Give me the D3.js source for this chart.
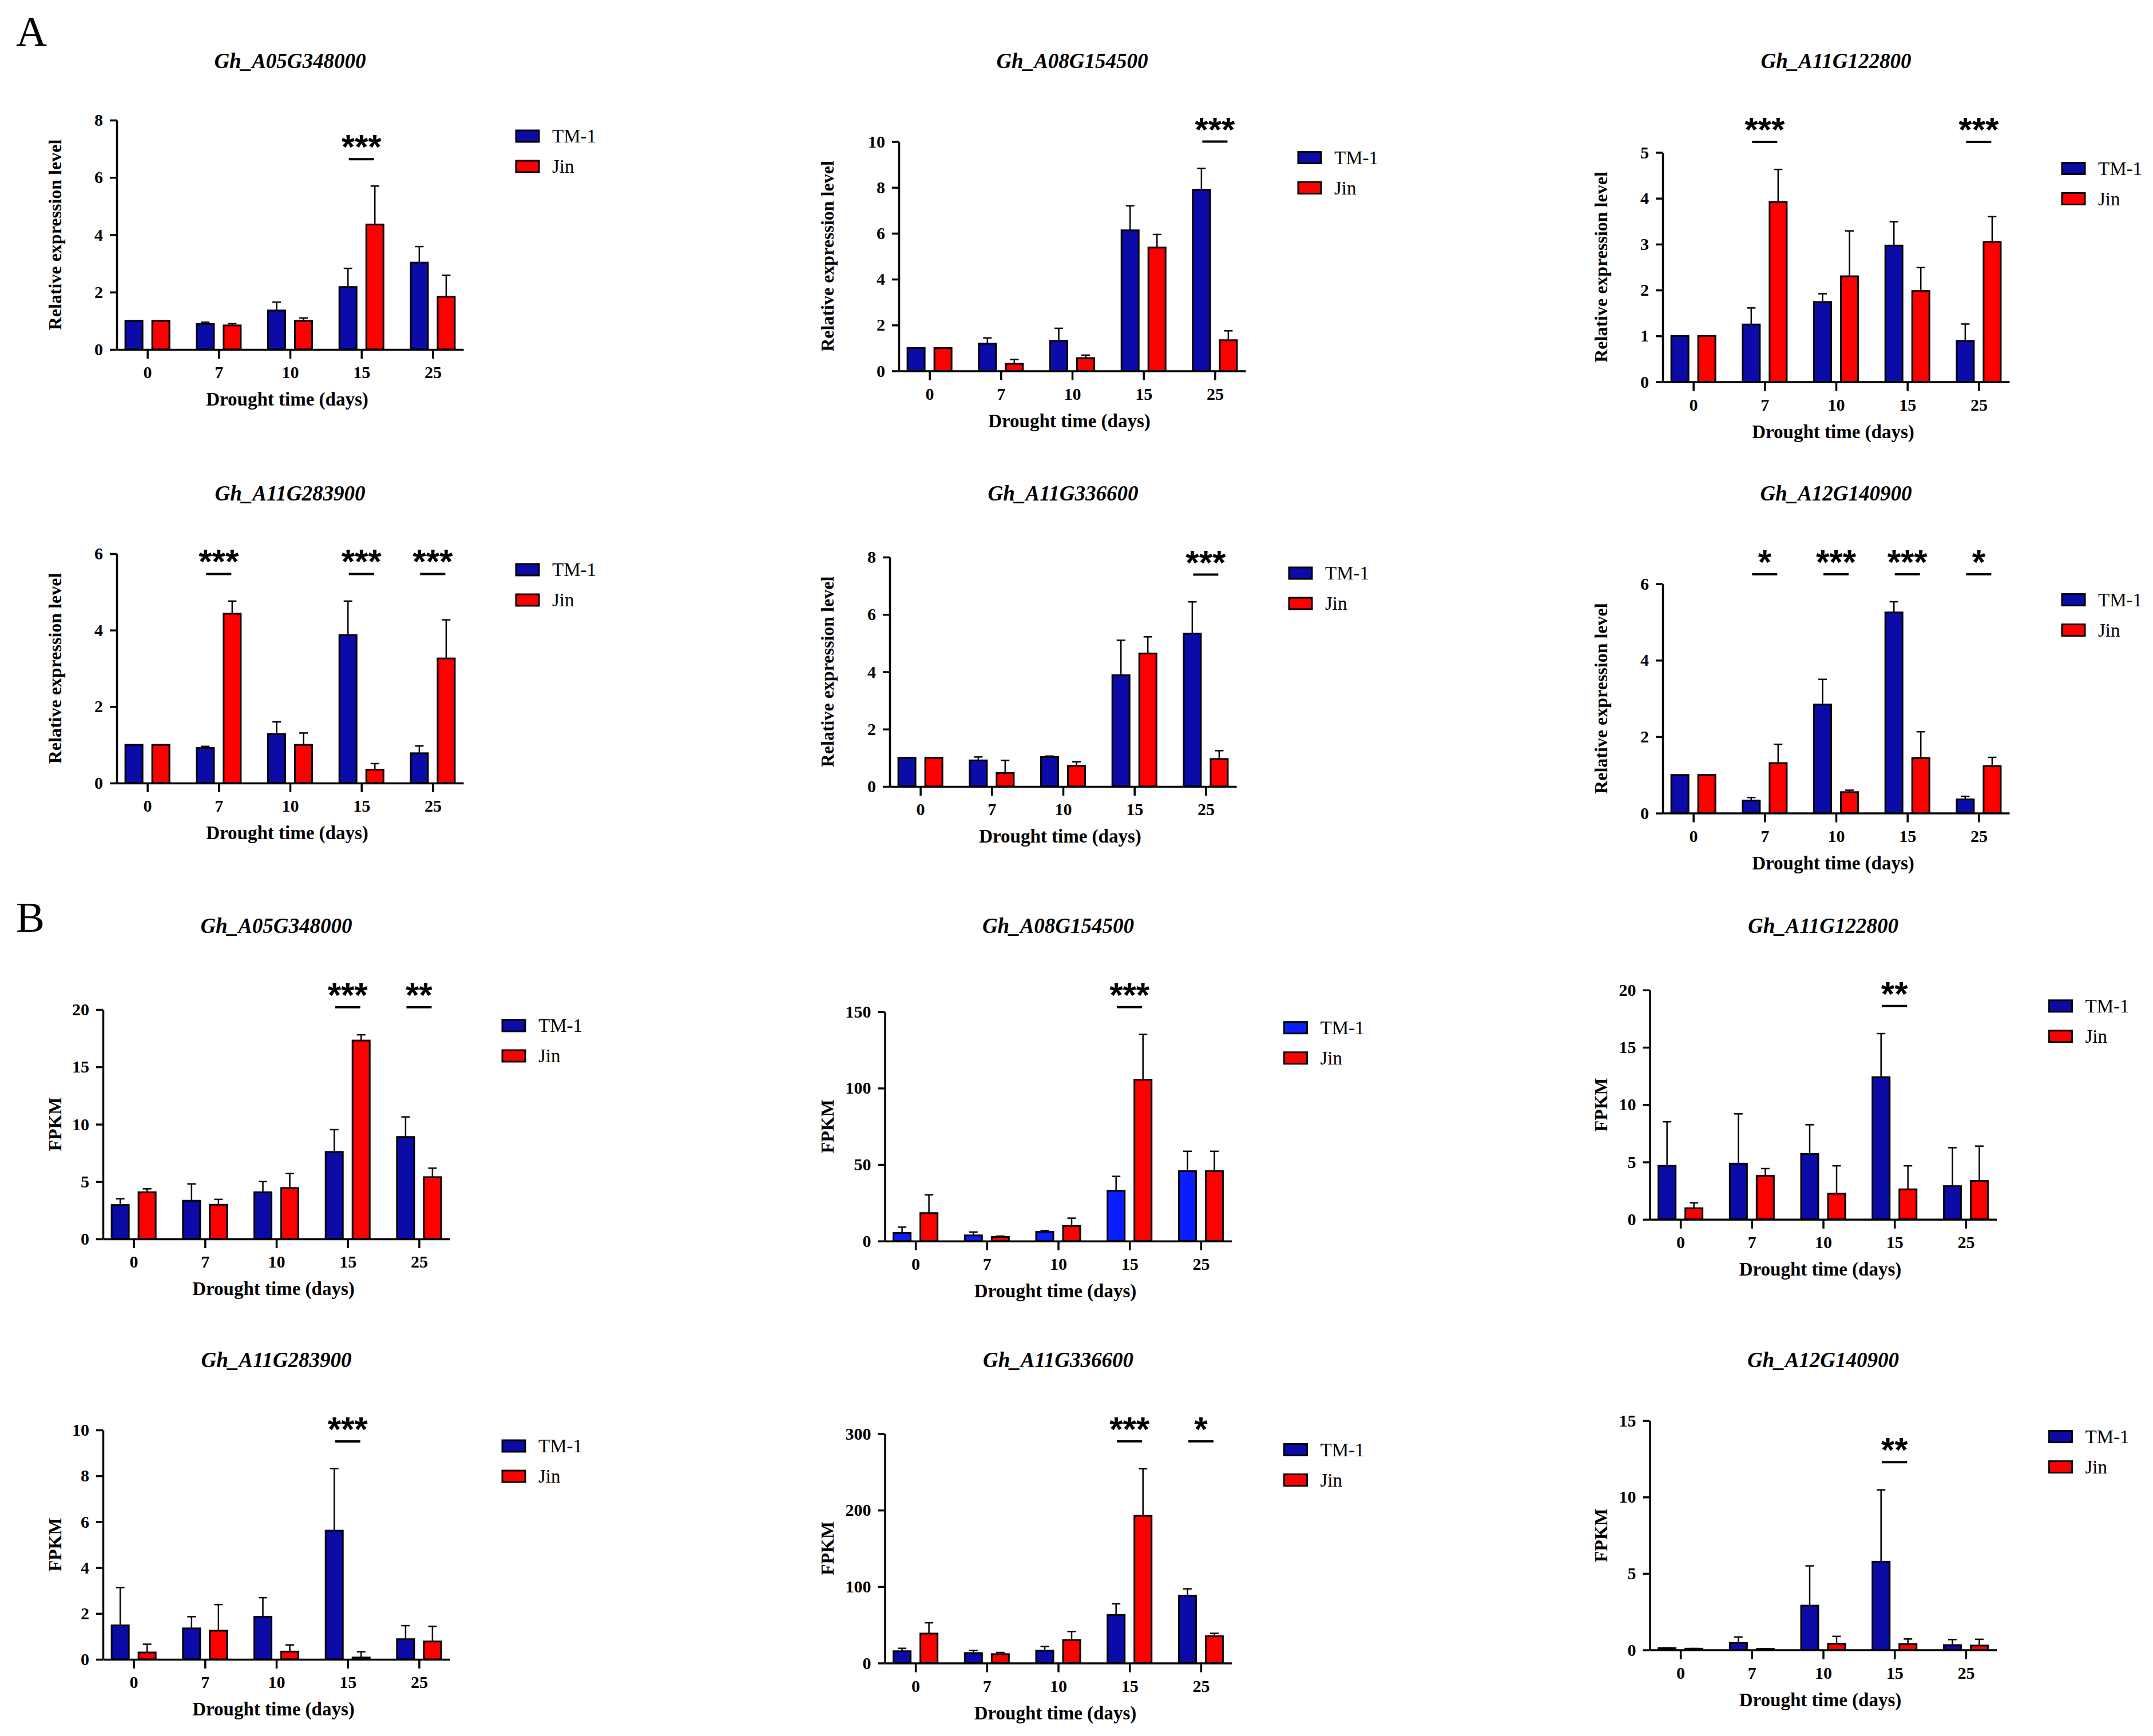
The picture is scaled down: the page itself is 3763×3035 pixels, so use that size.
<!DOCTYPE html>
<html>
<head>
<meta charset="utf-8">
<script src="https://cdn.jsdelivr.net/npm/d3@7"></script>
<style>
  body { margin: 0; background: #fff; }
</style>
</head>
<body>
<div id="chart"></div>
<script>
const svgWidth = 3763;
const svgHeight = 3035;

const days = ["0", "7", "10", "15", "25"];
const series = ["TM-1", "Jin"];
const genes = ["Gh_A05G348000", "Gh_A08G154500", "Gh_A11G122800",
               "Gh_A11G283900", "Gh_A11G336600", "Gh_A12G140900"];

// A: relative expression (qRT-PCR), one row per gene
const qpcrTM1 = [
    [1.0, 0.89, 1.36, 2.18, 3.03],
    [1.0, 1.19, 1.31, 6.13, 7.90],
    [1.0, 1.25, 1.74, 2.97, 0.89],
    [1.0, 0.92, 1.28, 3.87, 0.78],
    [1.0, 0.91, 1.03, 3.88, 5.33],
    [1.0, 0.33, 2.84, 5.25, 0.36]
];
const qpcrTM1Err = [
    [0, 0.06, 0.29, 0.65, 0.56],
    [0, 0.25, 0.55, 1.07, 0.93],
    [0, 0.36, 0.18, 0.52, 0.37],
    [0, 0.04, 0.32, 0.89, 0.19],
    [0, 0.12, 0.03, 1.22, 1.11],
    [0, 0.08, 0.66, 0.28, 0.08]
];
const qpcrJin = [
    [1.0, 0.84, 1.00, 4.36, 1.84],
    [1.0, 0.31, 0.56, 5.38, 1.34],
    [1.0, 3.92, 2.30, 1.98, 3.05],
    [1.0, 4.43, 1.00, 0.35, 3.26],
    [1.0, 0.47, 0.72, 4.64, 0.96],
    [1.0, 1.31, 0.55, 1.44, 1.23]
];
const qpcrJinErr = [
    [0, 0.06, 0.10, 1.34, 0.75],
    [0, 0.19, 0.13, 0.57, 0.41],
    [0, 0.71, 0.99, 0.51, 0.55],
    [0, 0.33, 0.31, 0.16, 1.01],
    [0, 0.44, 0.14, 0.58, 0.29],
    [0, 0.49, 0.05, 0.69, 0.23]
];
const qpcrTicks = [[0, 2, 4, 6, 8], [0, 2, 4, 6, 8, 10], [0, 1, 2, 3, 4, 5],
                   [0, 2, 4, 6], [0, 2, 4, 6, 8], [0, 2, 4, 6]];
const qpcrSig = [
    [{day: "15", mark: "***", level: 6.64}],
    [{day: "25", mark: "***", level: 10.0}],
    [{day: "7", mark: "***", level: 5.23}, {day: "25", mark: "***", level: 5.23}],
    [{day: "7", mark: "***", level: 5.47}, {day: "15", mark: "***", level: 5.47}, {day: "25", mark: "***", level: 5.47}],
    [{day: "25", mark: "***", level: 7.39}],
    [{day: "7", mark: "*", level: 6.25}, {day: "10", mark: "***", level: 6.25}, {day: "15", mark: "***", level: 6.25}, {day: "25", mark: "*", level: 6.25}]
];

// B: FPKM (RNA-seq)
const fpkmTM1 = [
    [2.96, 3.33, 4.07, 7.59, 8.89],
    [5.3, 3.7, 6.0, 32.9, 45.7],
    [4.67, 4.86, 5.7, 12.4, 2.9],
    [1.48, 1.35, 1.86, 5.61, 0.88],
    [15.5, 13.1, 16.2, 63.0, 88.2],
    [0.12, 0.46, 2.9, 5.77, 0.32]
];
const fpkmTM1Err = [
    [0.54, 1.47, 0.93, 1.94, 1.75],
    [3.8, 2.2, 0.8, 9.4, 13.0],
    [3.84, 4.34, 2.55, 3.8, 3.35],
    [1.65, 0.51, 0.83, 2.71, 0.59],
    [3.8, 3.4, 5.5, 14.5, 8.9],
    [0.02, 0.39, 2.6, 4.7, 0.36]
];
const fpkmJin = [
    [4.07, 2.98, 4.44, 17.3, 5.39],
    [18.3, 2.7, 9.8, 105.5, 45.7],
    [0.97, 3.8, 2.24, 2.62, 3.35],
    [0.30, 1.25, 0.34, 0.08, 0.78],
    [38.6, 11.7, 30.0, 192.6, 35.1],
    [0.085, 0.07, 0.41, 0.38, 0.29]
];
const fpkmJinErr = [
    [0.30, 0.47, 1.26, 0.50, 0.78],
    [11.9, 0.5, 5.2, 29.7, 13.0],
    [0.47, 0.63, 2.43, 2.05, 3.04],
    [0.36, 1.14, 0.29, 0.25, 0.66],
    [14.1, 2.1, 11.3, 61.6, 3.8],
    [0.01, 0.01, 0.48, 0.34, 0.41]
];
const fpkmTicks = [[0, 5, 10, 15, 20], [0, 50, 100, 150], [0, 5, 10, 15, 20],
                   [0, 2, 4, 6, 8, 10], [0, 100, 200, 300], [0, 5, 10, 15]];
const fpkmSig = [
    [{day: "15", mark: "***", level: 20.2}, {day: "25", mark: "**", level: 20.2}],
    [{day: "15", mark: "***", level: 153}],
    [{day: "15", mark: "**", level: 18.6}],
    [{day: "15", mark: "***", level: 9.5}],
    [{day: "15", mark: "***", level: 290}, {day: "25", mark: "*", level: 290}],
    [{day: "15", mark: "**", level: 12.28}]
];

// layout of the 12 panels (left edge of y axis, top of y axis)
const panelX = [204, 1571, 2906, 204, 1555, 2906, 180, 1546.5, 2883.5, 180, 1546.5, 2883.5];
const panelTop = [210, 247.5, 266.5, 968, 974, 1020.6, 1765, 1768.7, 1730.8, 2500, 2506.5, 2483.6];
const rowTitleY = [119, 875, 1631, 2390];
const colLabelX = [96, 1446, 2797.5];
const plotW = 606;
const plotH = 401;

const serif = "'Liberation Serif', 'Times New Roman', serif";
const darkBlue = "#0b0ba8";
const brightBlue = "#0a1eff";
const red = "#ff0000";

const svg = d3.select("#chart").append("svg")
    .attr("width", svgWidth)
    .attr("height", svgHeight)
    .style("background", "#fff");

function drawPanel(i, gene, tm1, tm1Err, jin, jinErr, ticks, sig, yLabel, blue) {
    const x0 = panelX[i];
    const top = panelTop[i];
    const row = Math.floor(i / 3);
    const col = i % 3;
    const colors = {"TM-1": blue, "Jin": red};

    const x = d3.scalePoint().domain(days).range([x0, x0 + plotW]).padding(0.43);
    const xs = d3.scaleBand().domain(series).range([-38.5, 38.5]).paddingInner(0.362);
    const y = d3.scaleLinear().domain([0, d3.max(ticks)]).range([top + plotH, top]);

    const g = svg.append("g");

    const groups = days.map((d, k) => ({
        day: d,
        vals: [
            {s: "TM-1", v: tm1[k], e: tm1Err[k]},
            {s: "Jin", v: jin[k], e: jinErr[k]}
        ]
    }));

    const grp = g.selectAll(".grp")
        .data(groups)
        .enter()
        .append("g")
        .attr("transform", d => `translate(${x(d.day)},0)`);

    const bar = grp.selectAll(".bar")
        .data(d => d.vals)
        .enter();

    bar.append("rect")
        .attr("x", d => xs(d.s))
        .attr("width", xs.bandwidth())
        .attr("y", d => y(d.v))
        .attr("height", d => y(0) - y(d.v))
        .attr("fill", d => colors[d.s])
        .attr("stroke", "#000")
        .attr("stroke-width", 3);

    const err = bar.filter(d => d.e > 0);
    err.append("line")
        .attr("x1", d => xs(d.s) + xs.bandwidth() / 2)
        .attr("x2", d => xs(d.s) + xs.bandwidth() / 2)
        .attr("y1", d => y(d.v))
        .attr("y2", d => y(d.v + d.e))
        .attr("stroke", "#000")
        .attr("stroke-width", 2.5);
    err.append("line")
        .attr("x1", d => xs(d.s) + xs.bandwidth() / 2 - 7.5)
        .attr("x2", d => xs(d.s) + xs.bandwidth() / 2 + 7.5)
        .attr("y1", d => y(d.v + d.e))
        .attr("y2", d => y(d.v + d.e))
        .attr("stroke", "#000")
        .attr("stroke-width", 2.5);

    // axes
    const axisX = g.append("g")
        .attr("transform", `translate(0,${y(0)})`)
        .call(d3.axisBottom(x).tickSize(16).tickSizeOuter(0).tickPadding(13));
    const axisY = g.append("g")
        .attr("transform", `translate(${x0},0)`)
        .call(d3.axisLeft(y).tickValues(ticks).tickFormat(d3.format("d"))
              .tickSize(12).tickSizeOuter(0).tickPadding(12));

    [axisX, axisY].forEach(a => {
        a.select(".domain").attr("stroke-width", 3.5);
        a.selectAll(".tick line").attr("stroke-width", 3.5);
        a.selectAll(".tick text")
            .attr("font-family", serif)
            .attr("font-weight", "bold")
            .attr("font-size", 30)
            .attr("fill", "#000");
    });

    // significance marks
    const s = g.selectAll(".sig")
        .data(sig)
        .enter();
    s.append("line")
        .attr("x1", d => x(d.day) - 22)
        .attr("x2", d => x(d.day) + 22)
        .attr("y1", d => y(d.level))
        .attr("y2", d => y(d.level))
        .attr("stroke", "#000")
        .attr("stroke-width", 4);
    s.append("text")
        .attr("x", d => x(d.day))
        .attr("y", d => y(d.level) - 1)
        .attr("text-anchor", "middle")
        .attr("font-family", "'Liberation Sans', Arial, sans-serif")
        .attr("font-weight", "bold")
        .attr("font-size", 60)
        .text(d => d.mark);

    // title
    g.append("text")
        .attr("x", x0 + plotW / 2)
        .attr("y", rowTitleY[row])
        .attr("text-anchor", "middle")
        .attr("font-family", serif)
        .attr("font-weight", "bold")
        .attr("font-style", "italic")
        .attr("font-size", 37)
        .text(gene);

    // axis titles
    g.append("text")
        .attr("transform", `translate(${colLabelX[col]},${top + plotH / 2}) rotate(-90)`)
        .attr("text-anchor", "middle")
        .attr("dominant-baseline", "central")
        .attr("font-family", serif)
        .attr("font-weight", "bold")
        .attr("font-size", 32)
        .text(yLabel);

    g.append("text")
        .attr("x", x0 + plotW / 2 - 5)
        .attr("y", y(0) + 98)
        .attr("text-anchor", "middle")
        .attr("font-family", serif)
        .attr("font-weight", "bold")
        .attr("font-size", 33)
        .text("Drought time (days)");

    // legend
    const leg = g.selectAll(".leg")
        .data(series)
        .enter()
        .append("g")
        .attr("transform", (d, k) => `translate(${x0 + 698},${top + 18 + k * 53})`);
    leg.append("rect")
        .attr("width", 40)
        .attr("height", 20)
        .attr("fill", d => colors[d])
        .attr("stroke", "#000")
        .attr("stroke-width", 3);
    leg.append("text")
        .attr("x", 63)
        .attr("y", 21)
        .attr("font-family", serif)
        .attr("font-size", 33)
        .text(d => d);
}

genes.forEach((gene, k) => {
    drawPanel(k, gene, qpcrTM1[k], qpcrTM1Err[k], qpcrJin[k], qpcrJinErr[k],
              qpcrTicks[k], qpcrSig[k], "Relative expression level", darkBlue);
});
genes.forEach((gene, k) => {
    drawPanel(k + 6, gene, fpkmTM1[k], fpkmTM1Err[k], fpkmJin[k], fpkmJinErr[k],
              fpkmTicks[k], fpkmSig[k], "FPKM", k === 1 ? brightBlue : darkBlue);
});

// panel letters
svg.selectAll(".letter")
    .data([{t: "A", y: 80}, {t: "B", y: 1629}])
    .enter()
    .append("text")
    .attr("x", 28)
    .attr("y", d => d.y)
    .attr("font-family", serif)
    .attr("font-size", 75)
    .text(d => d.t);
</script>
</body>
</html>
